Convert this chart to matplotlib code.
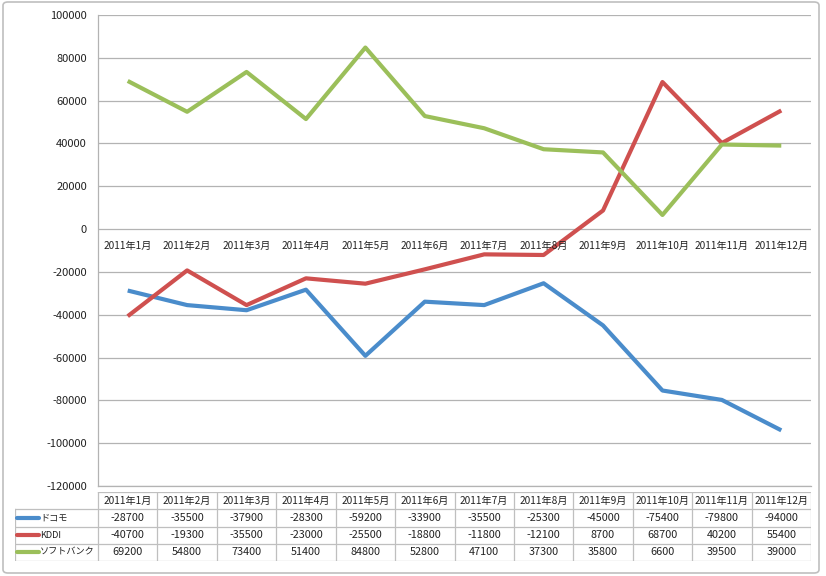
import matplotlib
matplotlib.use("Agg")
import matplotlib.pyplot as plt
from matplotlib.patches import FancyBboxPatch
from matplotlib.lines import Line2D

plt.rcParams['font.family'] = ['Noto Sans CJK JP', 'DejaVu Sans']

months = ["2011年1月", "2011年2月", "2011年3月", "2011年4月", "2011年5月", "2011年6月",
          "2011年7月", "2011年8月", "2011年9月", "2011年10月", "2011年11月", "2011年12月"]
series_names = ["ドコモ", "KDDI", "ソフトバンク"]
docomo = [-28700, -35500, -37900, -28300, -59200, -33900, -35500, -25300, -45000, -75400, -79800, -94000]
kddi = [-40700, -19300, -35500, -23000, -25500, -18800, -11800, -12100, 8700, 68700, 40200, 55400]
softbank = [69200, 54800, 73400, 51400, 84800, 52800, 47100, 37300, 35800, 6600, 39500, 39000]
series_values = [docomo, kddi, softbank]
colors = ["#4A8CCB", "#CF504F", "#9BBF5A"]
y_ticks = list(range(-120000, 100001, 20000))

W, H = 826, 576
fig = plt.figure(figsize=(W / 100, H / 100), dpi=100)

def fx(px):
    return px / W

def fy(py):
    return 1 - py / H

# outer border
border = FancyBboxPatch((fx(3), fy(573)), fx(819) - fx(3), fy(2) - fy(573),
                        boxstyle="round,pad=0,rounding_size=0.006",
                        transform=fig.transFigure, fill=False, edgecolor="#BFBFBF", linewidth=1.2)
fig.patches.append(border)

# main plot
L, R, T, B = 98, 811, 15, 486
ax = fig.add_axes([fx(L), fy(B), fx(R) - fx(L), fy(T) - fy(B)])
x = list(range(len(months)))
for vals, c in zip(series_values, colors):
    ax.plot(x, vals, color=c, linewidth=3.0, solid_joinstyle='round', solid_capstyle='butt', zorder=3)
ax.set_xlim(-0.5, len(months) - 0.5)
ax.set_ylim(-120000, 100000)
ax.set_yticks(y_ticks)
ax.set_yticklabels([str(v) for v in y_ticks], fontsize=8, color="#222222")
ax.tick_params(axis='y', length=0, pad=8)
ax.set_xticks([])
ax.grid(axis='y', color="#B3B3B3", linewidth=0.9)
ax.set_axisbelow(True)
for s in ["top", "right"]:
    ax.spines[s].set_visible(False)
for s in ["left", "bottom"]:
    ax.spines[s].set_color("#B3B3B3")
    ax.spines[s].set_linewidth(0.9)
for i, m in enumerate(months):
    ax.annotate(m, (i, 0), xytext=(0, -12), textcoords="offset points",
                ha="center", va="center", fontsize=7.3, color="#222222")

# data table
TL, TT, TB = 15, 492, 561
tax = fig.add_axes([fx(TL), fy(TB), fx(R) - fx(TL), fy(TT) - fy(TB)])
tax.set_xlim(TL, R)
tax.set_ylim(TB, TT)
tax.axis("off")
n = len(months)
cw = (R - L) / n
rows_y = [TT + k * (TB - TT) / 4 for k in range(5)]
gc = "#BFBFBF"
tax.plot([L, R], [rows_y[0], rows_y[0]], color=gc, lw=0.9)
for yy in rows_y[1:]:
    tax.plot([TL, R], [yy, yy], color=gc, lw=0.9)
tax.plot([TL, TL], [rows_y[1], rows_y[4]], color=gc, lw=0.9)
for k in range(n + 1):
    xx = L + k * cw
    tax.plot([xx, xx], [rows_y[0], rows_y[4]], color=gc, lw=0.9)
for k, m in enumerate(months):
    tax.text(L + (k + 0.5) * cw, (rows_y[0] + rows_y[1]) / 2, m, ha="center", va="center",
             fontsize=7.3, color="#222222")
for r, (name, vals, c) in enumerate(zip(series_names, series_values, colors)):
    yc = (rows_y[r + 1] + rows_y[r + 2]) / 2
    tax.add_line(Line2D([17, 39], [yc, yc], color=c, lw=3.0, solid_capstyle='round'))
    tax.text(40, yc, name, ha="left", va="center", fontsize=6.6, color="#222222")
    for k, v in enumerate(vals):
        tax.text(L + (k + 0.5) * cw, yc, str(v), ha="center", va="center",
                 fontsize=7.8, color="#222222")

fig.savefig("out.png", dpi=100)
